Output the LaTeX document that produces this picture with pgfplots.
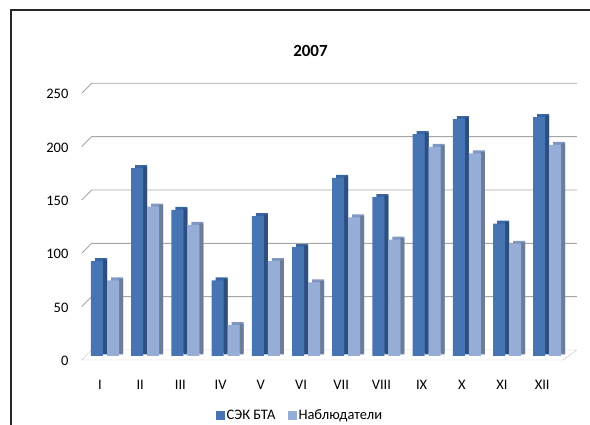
\documentclass[border=0pt]{standalone}
\usepackage{pgfplots}
\pgfplotsset{compat=1.18}
\usepackage{pgfplotstable}
\usepackage{fontspec}
\setmainfont{Carlito}

% monthly counts: SAO RAS time allocation committee vs. observers
\pgfplotstableread{
m  sek  obs
1  89   71
2  176  140
3  137  123
4  71   29
5  131  89
6  102  69
7  167  130
8  149  109
9  208  196
10 222  190
11 124  105
12 224  198
}\monthly

\definecolor{darkfront}{HTML}{4775B3}
\definecolor{darktop}{HTML}{3A66A3}
\definecolor{darkside}{HTML}{2C4F80}
\definecolor{lightfront}{HTML}{96AED7}
\definecolor{lighttop}{HTML}{8199C2}
\definecolor{lightside}{HTML}{6C7D99}
\definecolor{gridgray}{HTML}{A6A6A6}

\begin{document}
\begin{tikzpicture}
\path[use as bounding box] (0pt,0pt) rectangle (590pt,425pt);
\begin{axis}[
  at={(79.9pt,69pt)}, anchor=south west,
  scale only axis, width=482.4pt, height=266.7pt,
  xmin=0.5, xmax=12.5, ymin=0, ymax=250,
  clip=false,
  ybar, bar width=12pt,
  axis line style={draw=none},
  tick style={draw=none},
  xtick={1,...,12},
  xticklabels={I,II,III,IV,V,VI,VII,VIII,IX,X,XI,XII},
  ytick={0,50,100,150,200,250},
  /pgf/number format/assume math mode=true,
  tick label style={font=\fontsize{14.5}{16}\selectfont},
  yticklabel style={xshift=-8pt, yshift=-5pt},
  xticklabel style={yshift=-16pt},
  title={\textbf{2007}},
  title style={at={(0.478,1.121)}, anchor=center, font=\fontsize{17}{19}\selectfont},
  legend style={at={(0.456,-0.222)}, anchor=center, draw=none, fill=none,
    legend columns=2, font=\fontsize{14.5}{16}\selectfont,
    /tikz/every even column/.append style={column sep=10pt}},
  legend image code/.code={\fill[#1, draw=none] (0pt,-4.5pt) rectangle (9pt,4.5pt);},
]
% floor of the 3-D box
\filldraw[draw=gridgray!70, fill=white]
  ([yshift=-4pt]axis cs:0.545,0) -- ([yshift=-4pt]axis cs:12.525,0)
  -- ([yshift=6pt]axis cs:12.86,0) -- ([yshift=6pt]axis cs:0.793,0) -- cycle;
% back-wall grid lines with their perspective stubs
\pgfplotsinvokeforeach{50,100,150,200,250}{
  \draw[gridgray, line width=0.9pt]
    ([yshift=-4pt]axis cs:0.545,#1) -- ([yshift=6pt]axis cs:0.793,#1)
    -- ([yshift=6pt]axis cs:12.86,#1);
}
% first series: top face, side face, front face
\addplot[forget plot, fill=darktop, draw=none, bar shift=-3pt, xshift=4pt, yshift=3pt]
  table[x=m, y=sek] {\monthly};
\addplot[forget plot, fill=darkside, draw=none, bar width=4pt, bar shift=5pt, yshift=1.5pt]
  table[x=m, y=sek] {\monthly};
\addplot[fill=darkfront, draw=none, bar shift=-3pt]
  table[x=m, y=sek] {\monthly};
% second series
\addplot[forget plot, fill=lighttop, draw=none, bar shift=13pt, xshift=4pt, yshift=3pt]
  table[x=m, y=obs] {\monthly};
\addplot[forget plot, fill=lightside, draw=none, bar width=4pt, bar shift=21pt, yshift=1.5pt]
  table[x=m, y=obs] {\monthly};
\addplot[fill=lightfront, draw=none, bar shift=13pt]
  table[x=m, y=obs] {\monthly};
\legend{СЭК БТА, Наблюдатели}
\end{axis}
% chart frame
\draw[black!85, line width=1.3pt] (11pt,0pt) -- (11pt,415pt) -- (590pt,415pt);
\end{tikzpicture}
\end{document}
